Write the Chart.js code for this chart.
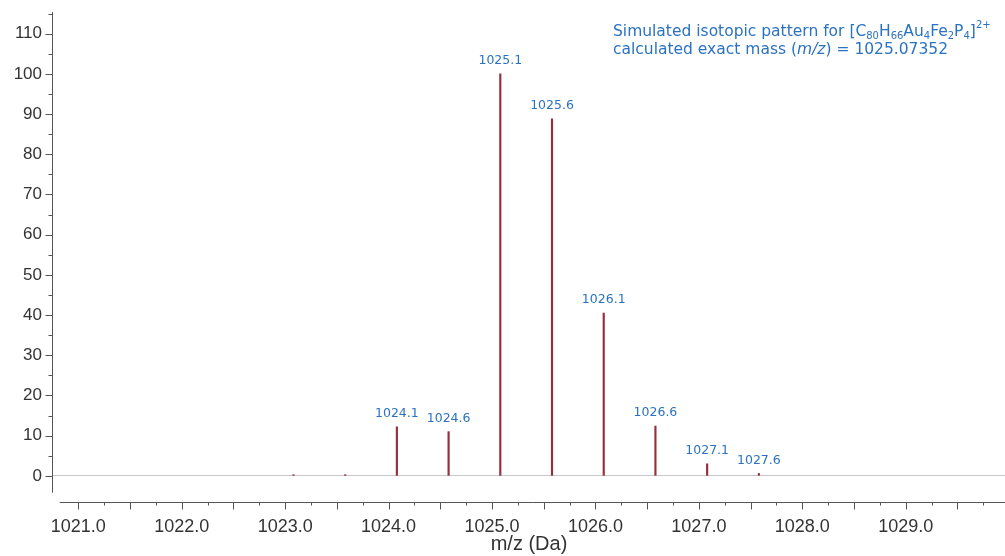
<!DOCTYPE html>
<html>
<head>
<meta charset="utf-8">
<script src="https://cdn.jsdelivr.net/npm/chart.js@4.4.0/dist/chart.umd.min.js"></script>
<style>
  html, body { margin: 0; padding: 0; background: #fff; }
  #wrap { width: 1005px; height: 556px; }
</style>
</head>
<body>
<div id="wrap"><canvas id="chart"></canvas></div>
<script>
// isotopic pattern peaks
const peakMz        = [1023.08, 1023.58, 1024.08, 1024.58, 1025.08, 1025.58, 1026.08, 1026.58, 1027.08, 1027.58];
const peakIntensity = [0.3, 0.3, 12.2, 11.0, 100, 88.8, 40.5, 12.4, 3.0, 0.6];
const peakLabels    = ["", "", "1024.1", "1024.6", "1025.1", "1025.6", "1026.1", "1026.6", "1027.1", "1027.6"];

// axis ranges
const xMin = 1020.755, xMax = 1029.96, xStep = 0.25, xAxisStart = 1020.82;
const yMin = -6.5, yMax = 115.4, yStep = 5, yAxisEnd = -4.2;

// annotation (text, kind) — kind: n normal, i italic, sub, sup
const noteLine1 = [["Simulated isotopic pattern for [C", "n"], ["80", "sub"], ["H", "n"], ["66", "sub"],
                   ["Au", "n"], ["4", "sub"], ["Fe", "n"], ["2", "sub"], ["P", "n"], ["4", "sub"], ["]", "n"], ["2+", "sup"]];
const noteLine2 = [["calculated exact mass (", "n"], ["m/z", "i"], [") = 1025.07352", "n"]];

const axisColor = "#555";
const textColor = "#333";
const blue = "#2a72c2";

const decor = {
  id: "decor",
  afterDraw(chart) {
    const { ctx, chartArea: ca, scales: { x, y } } = chart;
    ctx.save();
    ctx.strokeStyle = axisColor;
    ctx.lineWidth = 1;

    // y axis line + ticks
    const ax = ca.left - 0.5;
    ctx.beginPath();
    ctx.moveTo(ax, y.getPixelForValue(yMax));
    ctx.lineTo(ax, y.getPixelForValue(yAxisEnd));
    y.ticks.forEach(t => {
      if (t.value < 0) return;
      const py = Math.round(y.getPixelForValue(t.value)) + 0.5;
      const len = t.value % 10 === 0 ? 7 : 4;
      ctx.moveTo(ax - len, py);
      ctx.lineTo(ax, py);
    });
    ctx.stroke();

    // x axis line + ticks
    const ay = ca.bottom + 0.5;
    ctx.beginPath();
    ctx.moveTo(x.getPixelForValue(xAxisStart), ay);
    ctx.lineTo(ca.right, ay);
    x.ticks.forEach(t => {
      const px = Math.round(x.getPixelForValue(t.value)) + 0.5;
      const major = Math.abs(t.value * 2 - Math.round(t.value * 2)) < 1e-6;
      ctx.moveTo(px, ay);
      ctx.lineTo(px, ay + (major ? 7 : 3));
    });
    ctx.stroke();

    // peak labels
    ctx.fillStyle = blue;
    ctx.font = "12.5px 'DejaVu Sans'";
    ctx.textAlign = "center";
    ctx.textBaseline = "middle";
    peakLabels.forEach((lab, i) => {
      if (!lab) return;
      ctx.fillText(lab, x.getPixelForValue(peakMz[i]), y.getPixelForValue(peakIntensity[i]) - 13);
    });

    // annotation
    ctx.textAlign = "left";
    ctx.textBaseline = "alphabetic";
    const drawLine = (parts, px, py) => {
      parts.forEach(([txt, kind]) => {
        let dy = 0;
        if (kind === "sub") { ctx.font = "10px 'DejaVu Sans'"; dy = 3; }
        else if (kind === "sup") { ctx.font = "10px 'DejaVu Sans'"; dy = -8; }
        else if (kind === "i") { ctx.font = "italic 15.5px 'DejaVu Sans'"; }
        else { ctx.font = "15.5px 'DejaVu Sans'"; }
        ctx.fillText(txt, px, py + dy);
        px += ctx.measureText(txt).width;
      });
    };
    drawLine(noteLine1, 613, 36);
    drawLine(noteLine2, 613, 54);
    ctx.restore();
  }
};

new Chart(document.getElementById("chart"), {
  type: "bar",
  data: {
    datasets: [{
      data: peakMz.map((m, i) => ({ x: m, y: peakIntensity[i] })),
      backgroundColor: "#962f3d",
      borderWidth: 0,
      barThickness: 1.5
    }]
  },
  options: {
    responsive: true,
    maintainAspectRatio: false,
    animation: false,
    layout: { padding: { top: 12, left: 0, right: 0, bottom: 0 } },
    plugins: { legend: { display: false }, tooltip: { enabled: false } },
    scales: {
      x: {
        type: "linear",
        offset: false,
        min: xMin, max: xMax,
        afterFit: s => { s.height = 54; s.paddingLeft = 0; s.paddingRight = 0; },
        border: { display: false },
        grid: { display: false, drawTicks: false },
        ticks: {
          stepSize: xStep,
          includeBounds: false,
          autoSkip: false,
          maxRotation: 0,
          padding: 14,
          color: textColor,
          font: { family: "'Liberation Sans', Arial", size: 18 },
          callback: v => Math.abs(v - Math.round(v)) < 1e-6 ? v.toFixed(1) : ""
        },
        title: {
          display: true,
          text: "m/z (Da)",
          color: textColor,
          font: { family: "'Liberation Sans', Arial", size: 20 },
          padding: { top: 0, bottom: 0 }
        }
      },
      y: {
        min: yMin, max: yMax,
        afterFit: s => { s.width = 53; s.paddingTop = 0; s.paddingBottom = 0; },
        border: { display: false },
        grid: {
          drawTicks: false,
          color: c => (c.tick && c.tick.value === 0) ? "#c8c8c8" : "rgba(0,0,0,0)"
        },
        ticks: {
          stepSize: yStep,
          includeBounds: false,
          autoSkip: false,
          padding: 11,
          color: textColor,
          font: { family: "'Liberation Sans', Arial", size: 17 },
          callback: v => (v >= 0 && v <= 110 && v % 10 === 0) ? String(v) : ""
        }
      }
    }
  },
  plugins: [decor]
});
</script>
</body>
</html>
